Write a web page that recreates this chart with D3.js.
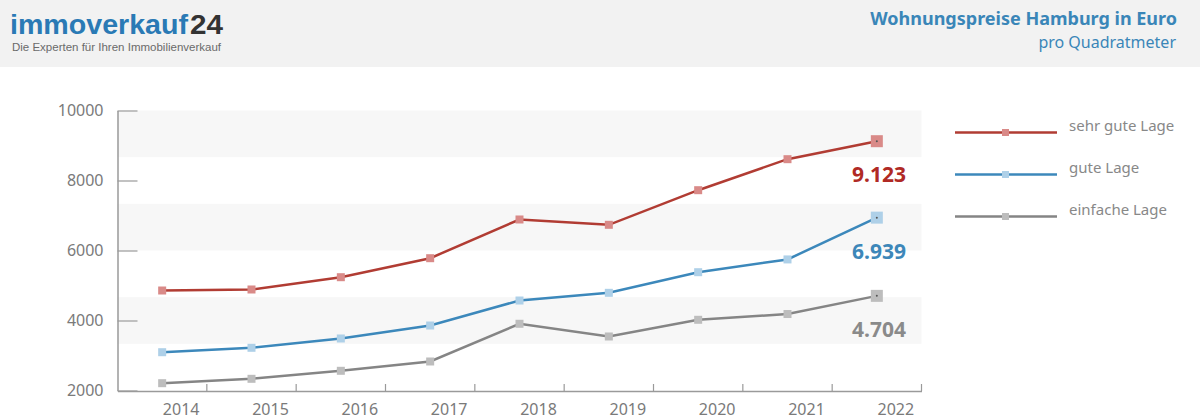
<!DOCTYPE html>
<html>
<head>
<meta charset="utf-8">
<script src="https://cdn.jsdelivr.net/npm/d3@7"></script>
<style>
  html, body { margin: 0; padding: 0; background: #fff; }
  svg { display: block; font-family: "Noto Sans", sans-serif; }
</style>
</head>
<body>
<div id="chart"></div>
<script>
// data
let years = ["2014", "2015", "2016", "2017", "2018", "2019", "2020", "2021", "2022"];
let sehrGute = [4857, 4886, 5237, 5780, 6886, 6734, 7723, 8609, 9123];
let gute = [3094, 3220, 3486, 3857, 4571, 4791, 5380, 5745, 6939];
let einfache = [2209, 2334, 2563, 2829, 3906, 3543, 4020, 4185, 4704];
let seriesNames = ["sehr gute Lage", "gute Lage", "einfache Lage"];
let yTicks = [2000, 4000, 6000, 8000, 10000];
let endLabels = ["9.123", "6.939", "4.704"];

let series = [
  { name: seriesNames[0], values: sehrGute, line: "#b13c33", mark: "#d98a88", label: "#b02a25" },
  { name: seriesNames[1], values: gute, line: "#3c88bb", mark: "#aed0e8", label: "#3d87b9" },
  { name: seriesNames[2], values: einfache, line: "#858585", mark: "#bdbdbd", label: "#8a8a8a" }
];

let w = 1200, h = 420;
let svg = d3.select("#chart").append("svg")
  .attr("width", w)
  .attr("height", h)
  .attr("viewBox", "0 0 " + w + " " + h);

// header
svg.append("rect")
  .attr("x", 0).attr("y", 0)
  .attr("width", w).attr("height", 67)
  .attr("fill", "#f2f2f2");

svg.append("text")
  .attr("x", 10).attr("y", 34)
  .text("immoverkauf")
  .style("font-family", "Liberation Sans, sans-serif")
  .style("font-size", "28px")
  .style("font-weight", "bold")
  .attr("textLength", 178)
  .attr("lengthAdjust", "spacingAndGlyphs")
  .attr("fill", "#2a7ab5");
svg.append("text")
  .attr("x", 190).attr("y", 34)
  .text("24")
  .style("font-family", "Liberation Sans, sans-serif")
  .style("font-size", "28px")
  .style("font-weight", "bold")
  .attr("textLength", 33)
  .attr("lengthAdjust", "spacingAndGlyphs")
  .attr("fill", "#333");

svg.append("text")
  .attr("x", 12).attr("y", 51)
  .text("Die Experten für Ihren Immobilienverkauf")
  .style("font-family", "Liberation Sans, sans-serif")
  .style("font-size", "11.5px")
  .attr("textLength", 209)
  .attr("lengthAdjust", "spacingAndGlyphs")
  .attr("fill", "#6a6a6a");

svg.append("text")
  .attr("x", 1177).attr("y", 25)
  .text("Wohnungspreise Hamburg in Euro")
  .style("font-size", "18px")
  .style("font-weight", "bold")
  .style("text-anchor", "end")
  .attr("fill", "#3a86b8");

svg.append("text")
  .attr("x", 1176).attr("y", 47.5)
  .text("pro Quadratmeter")
  .style("font-size", "16px")
  .style("text-anchor", "end")
  .attr("fill", "#3a86b8");

// scales
let left = 117.5, right = 921.5;
let x = d3.scaleBand().domain(years).range([left, right]);
let bw = x.bandwidth();
let y = d3.scaleLinear().domain([2000, 10000]).range([390.5, 110.5]);

// stripes
let stripeEdges = d3.range(7).map(i => 2000 + i * 8000 / 6);
let stripes = [];
for (let i = 0; i < 6; i++) {
  if (i % 2 === 1) stripes.push([stripeEdges[i], stripeEdges[i + 1]]);
}
svg.append("g").selectAll("rect").data(stripes).join("rect")
  .attr("x", left)
  .attr("y", d => y(d[1]))
  .attr("width", right - left)
  .attr("height", d => y(d[0]) - y(d[1]))
  .attr("fill", "#f7f7f7");

// y axis
let yAxis = svg.append("g")
  .attr("transform", "translate(" + left + ",0)")
  .call(d3.axisLeft(y).tickValues(yTicks).tickSizeInner(-20).tickSizeOuter(0).tickPadding(14).tickFormat(d3.format("d")));
yAxis.select(".domain").attr("stroke", "#9a9a9a").attr("stroke-width", 1.5);
yAxis.selectAll(".tick line").attr("stroke", "#9a9a9a").attr("stroke-width", 1.2);
yAxis.selectAll(".tick text")
  .style("font-size", "16px")
  .style("font-family", "Noto Sans, sans-serif")
  .attr("fill", "#7a7a7a");

// x axis
let xAxis = svg.append("g")
  .attr("transform", "translate(0,391)")
  .call(d3.axisBottom(x).tickSizeInner(-7).tickSizeOuter(0).tickPadding(0));
xAxis.select(".domain").attr("stroke", "#9a9a9a").attr("stroke-width", 1.5);
xAxis.selectAll(".tick line")
  .attr("x1", bw / 2).attr("x2", bw / 2)
  .attr("stroke", "#9a9a9a").attr("stroke-width", 1.2);
xAxis.selectAll(".tick text")
  .attr("x", 19)
  .attr("y", 24)
  .attr("dy", 0)
  .style("font-size", "16px")
  .style("font-family", "Noto Sans, sans-serif")
  .attr("fill", "#7a7a7a");

// lines
let cx = d => x(d) + bw / 2;
let line = d3.line()
  .x((d, i) => cx(years[i]))
  .y(d => y(d));

let last = years.length - 1;
series.forEach((s, si) => {
  let g = svg.append("g");
  g.append("path")
    .datum(s.values)
    .attr("d", line)
    .attr("fill", "none")
    .attr("stroke", s.line)
    .attr("stroke-width", 2.5);
  g.selectAll("rect").data(s.values).join("rect")
    .attr("x", (d, i) => cx(years[i]) - (i === last ? 6 : 4))
    .attr("y", (d, i) => y(d) - (i === last ? 6 : 4))
    .attr("width", (d, i) => i === last ? 12 : 8)
    .attr("height", (d, i) => i === last ? 12 : 8)
    .attr("fill", s.mark);
  g.append("circle")
    .attr("cx", cx(years[last]))
    .attr("cy", y(s.values[last]))
    .attr("r", 1)
    .attr("fill", "#555");
  g.append("text")
    .attr("x", 906)
    .attr("y", y(s.values[last]) + 41)
    .text(endLabels[si])
    .style("font-size", "21px")
    .style("font-weight", "bold")
    .style("text-anchor", "end")
    .attr("fill", s.label);
});

// legend
let legend = svg.append("g").selectAll("g").data(series).join("g")
  .attr("transform", (d, i) => "translate(955," + (132.5 + i * 42) + ")");
legend.append("line")
  .attr("x1", 0).attr("x2", 102)
  .attr("y1", 0).attr("y2", 0)
  .attr("stroke", d => d.line)
  .attr("stroke-width", 2.5);
legend.append("rect")
  .attr("x", 47).attr("y", -3.5)
  .attr("width", 7).attr("height", 7)
  .attr("fill", d => d.mark);
legend.append("text")
  .attr("x", 114).attr("y", -2)
  .text(d => d.name)
  .style("font-size", "15px")
  .attr("fill", "#888");
</script>
</body>
</html>
